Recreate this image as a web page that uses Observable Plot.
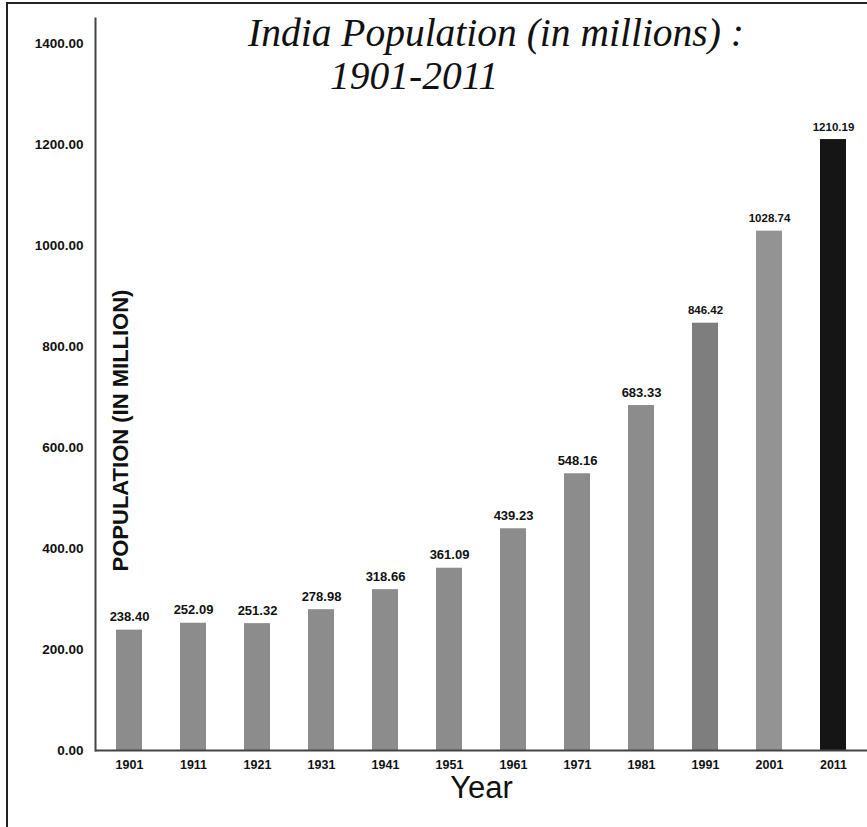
<!DOCTYPE html>
<html>
<head>
<meta charset="utf-8">
<script src="https://cdn.jsdelivr.net/npm/d3@7"></script>
<script src="https://cdn.jsdelivr.net/npm/@observablehq/plot@0.6"></script>
<style>
  html, body { margin: 0; padding: 0; background: #fff; }
  #wrap { position: relative; width: 867px; height: 827px; overflow: hidden; }
  #border { position: absolute; left: 6px; top: 2px; width: 1000px; height: 1000px;
            border-top: 2px solid #222; border-left: 2px solid #222; }
  .title { position: absolute; font-family: "Liberation Serif", "Times New Roman", serif;
           font-style: italic; font-size: 39.5px; color: #111; white-space: nowrap; line-height: 1; }
  #chart { position: absolute; left: 0; top: 0; }
</style>
</head>
<body>
<div id="wrap">
  <div id="border"></div>
  <div id="chart"></div>
  <div class="title" style="left:248px; top:14px;">India Population (in millions) :</div>
  <div class="title" style="left:330px; top:57px;">1901-2011</div>
</div>
<script>
const years = [1901, 1911, 1921, 1931, 1941, 1951, 1961, 1971, 1981, 1991, 2001, 2011];
const population = [238.40, 252.09, 251.32, 278.98, 318.66, 361.09, 439.23, 548.16, 683.33, 846.42, 1028.74, 1210.19];
const yTicks = [0, 200, 400, 600, 800, 1000, 1200, 1400];

const data = years.map((y, i) => ({year: String(y), value: population[i]}));

const barFill = d => d.year === "2011" ? "#151515" : d.year === "1991" ? "#7e7e7e" : d.year === "2001" ? "#939393" : "#8c8c8c";

const chart = Plot.plot({
  width: 867,
  height: 827,
  marginLeft: 95,
  marginRight: 0,
  marginTop: 18,
  marginBottom: 77,
  style: {background: "transparent", fontFamily: "'Liberation Sans', Arial, sans-serif"},
  x: {domain: years.map(String), paddingInner: 0.6, paddingOuter: 0.3, label: null},
  y: {domain: [0, 1450], label: null},
  marks: [
    Plot.barY(data, {x: "year", y: "value", fill: barFill}),
    Plot.frame({anchor: "left", stroke: "#444", strokeWidth: 2}),
    Plot.ruleY([0], {stroke: "#444", strokeWidth: 2}),
    Plot.axisY({ticks: yTicks, tickFormat: d => d.toFixed(2), tickSize: 0, tickPadding: 12,
      fontSize: 13.5, fontWeight: "bold", fill: "#111", label: null}),
    Plot.axisX({tickSize: 0, tickPadding: 10, fontSize: 12.5, fontWeight: "bold", fill: "#111", label: null}),
    Plot.text(data, {x: "year", y: "value", text: d => d.value.toFixed(2), dy: -9, lineAnchor: "bottom",
      fontSize: d => d.value > 800 ? 11.5 : 13, fontWeight: "bold", fill: "#111"}),
    Plot.text(["POPULATION (IN MILLION)"], {frameAnchor: "left", textAnchor: "middle", rotate: -90, dx: 25, dy: 46,
      fontSize: 22, fontWeight: "bold", fill: "#111"}),
    Plot.text(["Year"], {frameAnchor: "bottom", dy: 47, fontSize: 31, fill: "#111"})
  ]
});
document.getElementById("chart").appendChild(chart);
</script>
</body>
</html>
